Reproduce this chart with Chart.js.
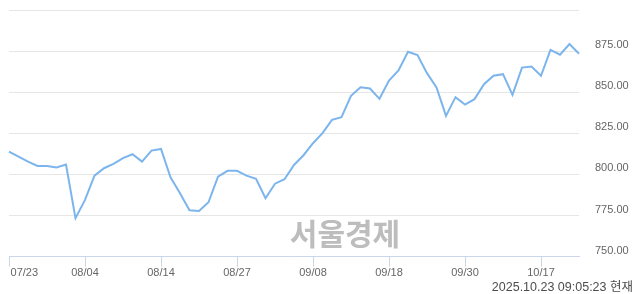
<!DOCTYPE html>
<html>
<head>
<meta charset="utf-8">
<script src="https://cdn.jsdelivr.net/npm/chart.js@4/dist/chart.umd.min.js"></script>
<style>
  html, body { margin: 0; padding: 0; background: #fff; }
  canvas { display: block; }
</style>
</head>
<body>
<canvas id="chart" width="640" height="294"></canvas>
<script>
// 거래일
const dates = [
  '07/23', '07/24', '07/25', '07/28', '07/29', '07/30', '07/31', '08/01',
  '08/04', '08/05', '08/06', '08/07', '08/08', '08/11', '08/12', '08/13',
  '08/14', '08/18', '08/19', '08/20', '08/21', '08/22', '08/25', '08/26',
  '08/27', '08/28', '08/29', '09/01', '09/02', '09/03', '09/04', '09/05',
  '09/08', '09/09', '09/10', '09/11', '09/12', '09/15', '09/16', '09/17',
  '09/18', '09/19', '09/22', '09/23', '09/24', '09/25', '09/26', '09/29',
  '09/30', '10/01', '10/02', '10/10', '10/13', '10/14', '10/15', '10/16',
  '10/17', '10/20', '10/21', '10/22', '10/23'
];
// 종가
const closes = [
  813.9, 810.9, 807.8, 805.2, 805.2, 804.2, 806.0, 773.4,
  784.5, 799.3, 803.8, 806.4, 809.9, 812.3, 807.8, 814.5,
  815.5, 798.3, 788.6, 778.2, 777.8, 783.1, 798.7, 802.2,
  802.2, 799.3, 797.3, 785.5, 794.4, 797.1, 805.8, 811.7,
  819.0, 825.1, 833.2, 834.8, 847.8, 853.0, 852.3, 846.0,
  857.1, 863.2, 874.6, 872.6, 861.6, 852.9, 835.6, 847.0,
  842.5, 845.8, 854.9, 860.0, 861.0, 848.4, 865.0, 865.6,
  860.0, 875.8, 872.8, 879.3, 873.4
];
const yMin = 750;
const yMax = 900;
const yStep = 25;
const labelEvery = 8;
const watermark = '서울경제';
const stamp = '2025.10.23 09:05:23 현재';

Chart.defaults.font.family = '"Liberation Sans", Arial, sans-serif';
Chart.defaults.font.size = 11;
Chart.defaults.color = '#666666';

// 워터마크, 기준시각
const extraText = {
  id: 'extraText',
  afterDraw(chart) {
    const c = chart.ctx;
    c.save();
    c.font = 'bold 30px "Noto Sans CJK KR", sans-serif';
    c.fillStyle = '#bdbdbd';
    c.textAlign = 'center';
    c.textBaseline = 'middle';
    c.fillText(watermark, 345, 234);
    c.font = '12.5px "Liberation Sans", "Noto Sans CJK KR", sans-serif';
    c.fillStyle = '#4d4d4d';
    c.textAlign = 'right';
    c.textBaseline = 'alphabetic';
    c.fillText(stamp, 633, 290.5);
    c.restore();
  }
};

new Chart(document.getElementById('chart').getContext('2d'), {
  type: 'line',
  data: {
    labels: dates,
    datasets: [{
      data: closes,
      borderColor: '#7cb5ec',
      borderWidth: 2,
      pointRadius: 0,
      tension: 0,
      fill: false
    }]
  },
  options: {
    responsive: false,
    animation: false,
    layout: { padding: { top: 10, left: 9, right: 0, bottom: 0 } },
    plugins: {
      legend: { display: false },
      tooltip: { enabled: false }
    },
    scales: {
      x: {
        offset: false,
        grid: {
          drawOnChartArea: false,
          tickLength: 10,
          color: (ctx) => ctx.index % labelEvery === 0 ? '#ccd6eb' : 'rgba(0,0,0,0)'
        },
        border: { color: '#ccd6eb', width: 1 },
        ticks: {
          autoSkip: false,
          maxRotation: 0,
          minRotation: 0,
          padding: 0,
          callback: function (v, i) {
            if (i % labelEvery !== 0) return '';
            // 첫 라벨은 왼쪽 끝에 맞춤
            return i === 0 ? '          ' + dates[i] : dates[i];
          }
        },
        afterFit: (s) => { s.paddingLeft = 0; s.paddingRight = 0; s.height = 37.3; }
      },
      y: {
        position: 'right',
        min: yMin,
        max: yMax,
        grid: { color: '#e6e6e6', drawTicks: false },
        border: { display: false },
        ticks: {
          stepSize: yStep,
          padding: 16,
          labelOffset: -6,
          callback: (v) => v === yMax ? '' : v.toFixed(2)
        },
        afterFit: (s) => { s.width = 61; s.paddingTop = 0; s.paddingBottom = 0; }
      }
    }
  },
  plugins: [extraText]
});
</script>
</body>
</html>
